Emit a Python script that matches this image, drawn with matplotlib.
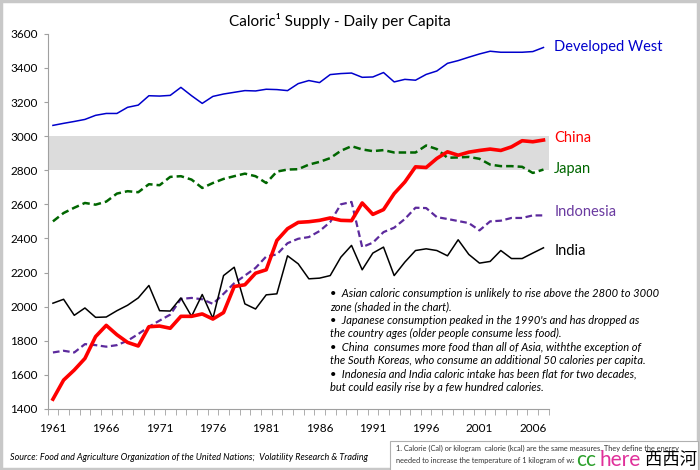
import matplotlib.pyplot as plt
import numpy as np
from matplotlib.patches import Rectangle

years = list(range(1961, 2008))

developed_west = [3063, 3075, 3086, 3098, 3122, 3133, 3133, 3169, 3182, 3237,
                  3235, 3239, 3286, 3237, 3192, 3233, 3247, 3257, 3267, 3265,
                  3275, 3273, 3267, 3308, 3326, 3314, 3361, 3367, 3370, 3345,
                  3347, 3373, 3318, 3333, 3328, 3362, 3382, 3427, 3443, 3463,
                  3482, 3498, 3492, 3492, 3492, 3496, 3520]
japan = [2500, 2549, 2580, 2608, 2598, 2616, 2663, 2677, 2671, 2718,
         2712, 2761, 2765, 2745, 2696, 2725, 2749, 2765, 2780, 2765,
         2725, 2792, 2804, 2806, 2833, 2849, 2871, 2914, 2941, 2922,
         2912, 2918, 2904, 2904, 2904, 2945, 2924, 2873, 2875, 2878,
         2867, 2833, 2824, 2824, 2820, 2784, 2804]
china = [1457, 1569, 1628, 1696, 1824, 1890, 1835, 1790, 1769, 1882,
         1886, 1873, 1943, 1943, 1957, 1927, 1965, 2118, 2128, 2196,
         2216, 2388, 2457, 2494, 2498, 2506, 2520, 2506, 2504, 2608,
         2541, 2569, 2663, 2731, 2820, 2816, 2869, 2908, 2888, 2906,
         2916, 2924, 2916, 2937, 2973, 2967, 2977]
indonesia = [1731, 1741, 1731, 1780, 1774, 1765, 1774, 1800, 1839, 1882,
             1918, 1953, 2045, 2051, 2043, 2016, 2075, 2137, 2182, 2227,
             2294, 2306, 2372, 2398, 2408, 2443, 2496, 2600, 2614, 2349,
             2375, 2437, 2463, 2514, 2580, 2578, 2525, 2514, 2502, 2490,
             2447, 2500, 2504, 2520, 2520, 2535, 2535]
india = [2020, 2043, 1949, 1992, 1937, 1939, 1976, 2008, 2051, 2124,
         1976, 1974, 2051, 1943, 2071, 1931, 2182, 2231, 2016, 1986,
         2069, 2075, 2298, 2251, 2163, 2167, 2182, 2290, 2359, 2216,
         2314, 2349, 2182, 2261, 2329, 2339, 2329, 2298, 2392, 2306,
         2255, 2265, 2329, 2282, 2282, 2314, 2345]

series_names = ["Developed West", "China", "Japan", "Indonesia", "India"]
label_y = [3520, 2990, 2805, 2555, 2325]

notes = ("\u2022  Asian caloric consumption is unlikely to rise above the 2800 to 3000\n"
         "zone (shaded in the chart).\n"
         "\u2022  Japanese consumption peaked in the 1990's and has dropped as\n"
         "the country ages (older people consume less food).\n"
         "\u2022  China  consumes more food than all of Asia, withthe exception of\n"
         "the South Koreas, who consume an additional 50 calories per capita.\n"
         "\u2022  Indonesia and India caloric intake has been flat for two decades,\n"
         "but could easily rise by a few hundred calories.")

plt.rcParams['font.family'] = ['Lato', 'DejaVu Sans']

fig = plt.figure(figsize=(7, 4.7), dpi=100)
fig.patches.append(Rectangle((0.002, 0.002), 0.995, 0.995, transform=fig.transFigure,
                             fill=False, edgecolor='#c8c8c8', linewidth=2.5))
ax = fig.add_axes([0.068, 0.13, 0.716, 0.798])

x = np.arange(len(years))
ax.axhspan(2800, 3000, color='#dcdcdc', zorder=0, lw=0)
ax.plot(x, developed_west, color='#0000cc', lw=1.1)
ax.plot(x, japan, color='#006600', lw=1.8, ls=(0, (3, 1.6)))
ax.plot(x, indonesia, color='#5c2a9d', lw=1.6, ls=(0, (3, 1.6)))
ax.plot(x, india, color='black', lw=1.1)
ax.plot(x, china, color='#ff0000', lw=2.6)

colors = ['#0000cc', '#ff0000', '#006600', '#6a3aa0', 'black']
for name, yv, c in zip(series_names, label_y, colors):
    ax.text(47.0, yv, name, color=c, fontsize=10.5, va='center', ha='left', clip_on=False)

ax.set_xlim(-0.5, len(years) - 0.5)
ax.set_ylim(1400, 3600)
ax.set_yticks(range(1400, 3601, 200))
ax.set_xticks(np.arange(len(years) + 1) - 0.5, minor=True)
ax.set_xticks(x[::5])
ax.set_xticklabels([str(y) for y in years[::5]])
ax.tick_params(axis='x', which='major', length=0, pad=10, labelsize=8.5)
ax.tick_params(axis='x', which='minor', length=4, color='#a0a0a0', direction='out')
ax.tick_params(axis='y', length=3, color='#a0a0a0', labelsize=8.5, pad=4)
ax.spines['top'].set_visible(False)
ax.spines['right'].set_visible(False)
ax.spines['left'].set_color('#a0a0a0')
ax.spines['bottom'].set_color('#a0a0a0')

fig.text(0.486, 0.955, "Caloric\u00b9 Supply - Daily per Capita", ha='center', va='center', fontsize=11)

fig.text(0.472, 0.388, notes, ha='left', va='top', fontsize=8, style='italic',
         linespacing=1.28)

fig.text(0.015, 0.026, "Source: Food and Agriculture Organization of the United Nations;  Volatility Research & Trading",
         ha='left', va='center', fontsize=6.5, style='italic')

# footnote box
fig.patches.append(Rectangle((0.557, -0.01), 0.44, 0.072, transform=fig.transFigure,
                             fill=True, facecolor='white', edgecolor='#b0b0b0', linewidth=0.8))
fig.text(0.566, 0.033, "1. Calorie (Cal) or kilogram  calorie (kcal) are the same measures. They define the energy\n"
         "needed to increase the temperature of 1 kilogram of water by 1 degree Celsius.",
         ha='left', va='center', fontsize=5.3, linespacing=1.8, color='#333333')

# watermark sits over the end of the footnote
fig.patches.append(Rectangle((0.82, 0.005), 0.175, 0.028, transform=fig.transFigure,
                             facecolor='white', edgecolor='none', zorder=4))
wm = dict(ha='left', va='baseline', fontsize=15, zorder=5)
fig.text(0.823, 0.008, "cc", color='#2ca02c', **wm)
fig.text(0.856, 0.008, "here", color='#e0309a', **wm)
fig.text(0.921, 0.010, "西西河", color='black', family=['Noto Sans CJK SC'],
         ha='left', va='baseline', fontsize=12.5, zorder=5)

fig.savefig('out.png', dpi=100)
